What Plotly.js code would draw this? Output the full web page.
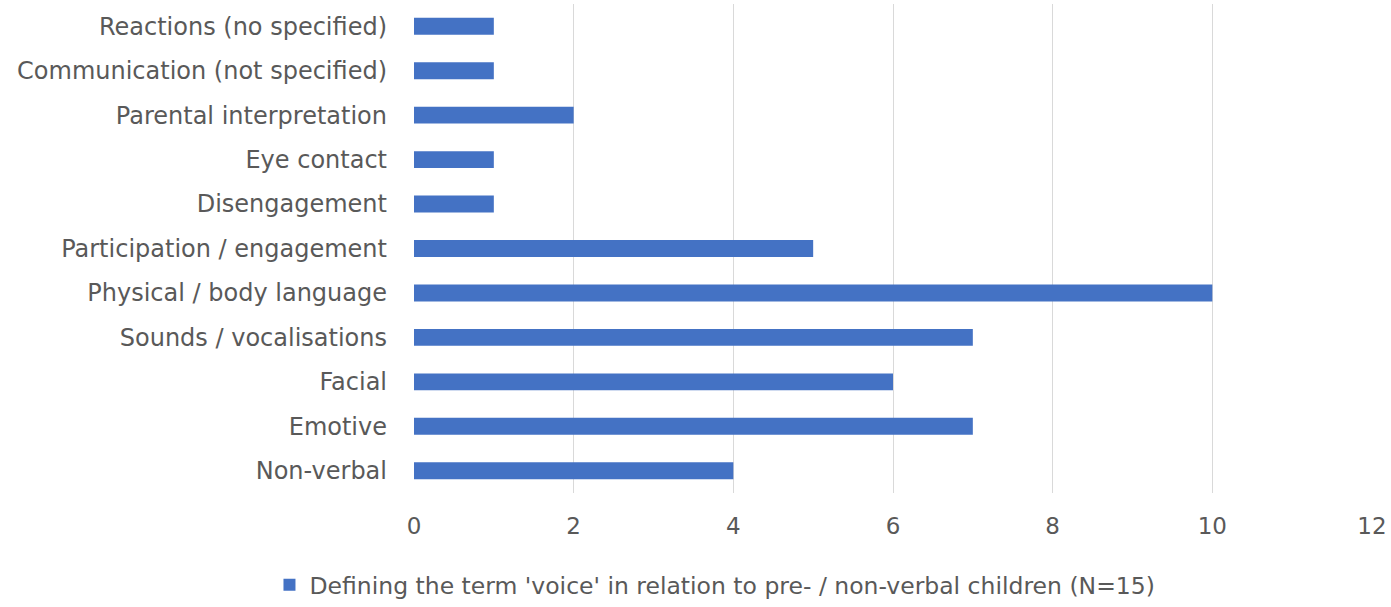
<!DOCTYPE html>
<html><head><meta charset="utf-8">
<script src="https://cdn.plot.ly/plotly-3.0.1.min.js"></script>
<style>html,body{margin:0;padding:0;background:#fff}#chart{width:1391px;height:607px}</style>
</head><body><div id="chart"></div>
<script>
const categories = [
  "Non-verbal",
  "Emotive",
  "Facial",
  "Sounds / vocalisations",
  "Physical / body language",
  "Participation / engagement",
  "Disengagement",
  "Eye contact",
  "Parental interpretation",
  "Communication (not specified)",
  "Reactions (no specified)"
];
const counts = [4, 7, 6, 7, 10, 5, 1, 1, 2, 1, 1];
const seriesName = "Defining the term 'voice' in relation to pre- / non-verbal children (N=15)";
const xTicks = [0, 2, 4, 6, 8, 10, 12];

const fontFam = "DejaVu Sans, sans-serif";
const trace = {
  type: 'bar', orientation: 'h',
  x: counts, y: categories, name: seriesName,
  marker: {color: '#4472C4'},
  hoverinfo: 'x+y'
};
const layout = {
  width: 1391, height: 607,
  margin: {l: 414, r: 19, t: 4, b: 114},
  paper_bgcolor: '#fff', plot_bgcolor: '#fff',
  bargap: 0.62,
  showlegend: true,
  legend: {orientation: 'h', xref: 'container', yref: 'container', x: 0.514, xanchor: 'center', y: 0.0, yanchor: 'bottom',
           font: {family: fontFam, size: 23.5, color: '#595959'}},
  xaxis: {range: [0, 12], tickvals: xTicks, ticktext: xTicks.map(String), showgrid: true, gridcolor: '#d9d9d9', gridwidth: 1,
          zeroline: false, showline: false, ticks: '', ticklabelstandoff: 17,
          tickfont: {family: fontFam, size: 23, color: '#595959'}, fixedrange: true},
  yaxis: {type: 'category', categoryorder: 'array', categoryarray: categories, showgrid: false, zeroline: false, showline: false,
          ticks: '', ticklabelstandoff: 26, tickfont: {family: fontFam, size: 24, color: '#595959'}, fixedrange: true}
};
Plotly.newPlot('chart', [trace], layout, {displayModeBar: false, staticPlot: true});
</script></body></html>
